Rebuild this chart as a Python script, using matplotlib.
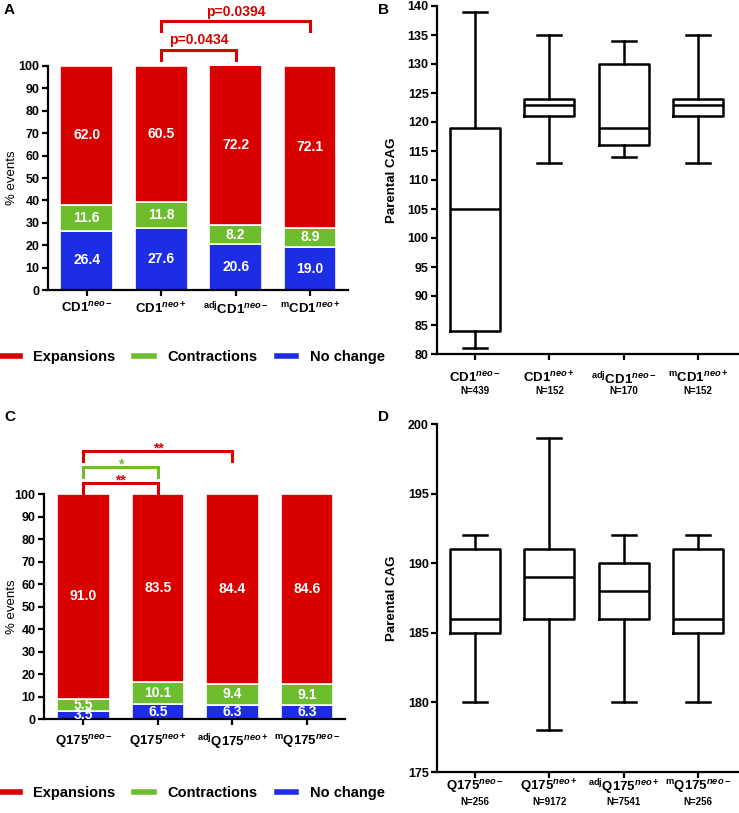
import matplotlib
matplotlib.use("Agg")
import matplotlib.pyplot as plt
from matplotlib.lines import Line2D
import numpy as np

plt.rcParams.update({
    "font.family": ["Liberation Sans", "DejaVu Sans"],
    "font.weight": "bold",
    "mathtext.fontset": "custom",
    "mathtext.rm": "Liberation Sans:bold",
    "mathtext.it": "Liberation Sans:italic:bold",
    "mathtext.bf": "Liberation Sans:bold",
    "axes.linewidth": 1.6,
    "xtick.major.width": 1.6,
    "ytick.major.width": 1.6,
    "xtick.major.size": 4,
    "ytick.major.size": 4,
})

# ---------------- data ----------------
labels_A = ["CD1$^{neo-}$", "CD1$^{neo+}$", "$^{\\mathrm{adj}}$CD1$^{neo-}$", "$^{\\mathrm{m}}$CD1$^{neo+}$"]
nochange_A = [26.4, 27.6, 20.6, 19.0]
contr_A = [11.6, 11.8, 8.2, 8.9]
exp_A = [62.0, 60.5, 72.2, 72.1]

labels_C = ["Q175$^{neo-}$", "Q175$^{neo+}$", "$^{\\mathrm{adj}}$Q175$^{neo+}$", "$^{\\mathrm{m}}$Q175$^{neo-}$"]
nochange_C = [3.5, 6.5, 6.3, 6.3]
contr_C = [5.5, 10.1, 9.4, 9.1]
exp_C = [91.0, 83.5, 84.4, 84.6]

labels_B = ["CD1$^{neo-}$", "CD1$^{neo+}$", "$^{\\mathrm{adj}}$CD1$^{neo-}$", "$^{\\mathrm{m}}$CD1$^{neo+}$"]
n_B = ["N=439", "N=152", "N=170", "N=152"]
whislo_B = [81, 113, 114, 113]
q1_B = [84, 121, 116, 121]
med_B = [105, 123, 119, 123]
q3_B = [119, 124, 130, 124]
whishi_B = [139, 135, 134, 135]

labels_D = ["Q175$^{neo-}$", "Q175$^{neo+}$", "$^{\\mathrm{adj}}$Q175$^{neo+}$", "$^{\\mathrm{m}}$Q175$^{neo-}$"]
n_D = ["N=256", "N=9172", "N=7541", "N=256"]
whislo_D = [180, 178, 180, 180]
q1_D = [185, 186, 186, 185]
med_D = [186, 189, 188, 186]
q3_D = [191, 191, 190, 191]
whishi_D = [192, 199, 192, 192]

series_names = ["Expansions", "Contractions", "No change"]

# significance brackets: (x1, x2, level, text, colour)
sig_A = [(1, 2, 107.1, "p=0.0434", "red"), (1, 3, 120.0, "p=0.0394", "red")]
sig_C = [(0, 1, 104.9, "**", "red"), (0, 1, 112.0, "*", "green"), (0, 2, 119.0, "**", "red")]

RED = "#D90000"
GREEN = "#6DBD2F"
BLUE = "#1D2DE6"
cmap = {"red": RED, "green": GREEN}

W, H = 739, 813
fig = plt.figure(figsize=(W / 100, H / 100), dpi=100)


def ax_px(left, top, right, bottom):
    return fig.add_axes([left / W, 1 - bottom / H, (right - left) / W, (bottom - top) / H])


def stacked(ax, labels, nc, ct, ex, sig, xlim, pad):
    x = np.arange(len(labels))
    nc = np.array(nc); ct = np.array(ct); ex = np.array(ex)
    kw = dict(width=0.71, edgecolor="white", linewidth=1.2)
    ax.bar(x, nc, color=BLUE, **kw)
    ax.bar(x, ct, bottom=nc, color=GREEN, **kw)
    ax.bar(x, ex, bottom=nc + ct, color=RED, **kw)
    for xi, a, b, c in zip(x, nc, ct, ex):
        for val, base in ((a, 0), (b, a), (c, a + b)):
            ax.text(xi, base + val / 2, f"{val:.1f}", color="white", ha="center",
                    va="center", fontsize=10, fontweight="bold")
    ax.set_xlim(*xlim)
    ax.set_ylim(0, 100)
    ax.set_yticks(range(0, 101, 10))
    ax.set_xticks(x)
    ax.set_xticklabels(labels, fontsize=9.5)
    ax.tick_params(axis="x", pad=pad)
    ax.tick_params(axis="y", labelsize=9, pad=2)
    for s in ("top", "right"):
        ax.spines[s].set_visible(False)
    ax.set_ylabel("% events", fontsize=9.5, fontweight="normal")
    for x1, x2, lvl, txt, col in sig:
        c = cmap[col]
        ax.plot([x1, x1, x2, x2], [lvl - 4.3, lvl, lvl, lvl - 4.3], color=c, lw=2.2,
                clip_on=False, solid_joinstyle="miter")
        if txt.startswith("p"):
            ax.text((x1 + x2) / 2, lvl + 1.2, txt, color=c, ha="center", va="bottom",
                    fontsize=10, fontweight="bold", clip_on=False)
        else:
            ax.text((x1 + x2) / 2, lvl - 1.8, txt, color=c, ha="center", va="bottom",
                    fontsize=10, fontweight="bold", clip_on=False)


def boxes(ax, labels, ns, lo, q1, md, q3, hi, ylim, yticks, xlim, pad, npos):
    stats = [dict(whislo=a, q1=b, med=c, q3=d, whishi=e, fliers=[])
             for a, b, c, d, e in zip(lo, q1, md, q3, hi)]
    lp = dict(color="black", linewidth=1.8)
    ax.bxp(stats, positions=range(len(stats)), widths=0.67, capwidths=0.32,
           showfliers=False, boxprops=lp, whiskerprops=lp, capprops=lp,
           medianprops=lp)
    ax.set_xlim(*xlim)
    ax.set_ylim(*ylim)
    ax.set_yticks(yticks)
    ax.set_xticks(range(len(labels)))
    ax.set_xticklabels(labels, fontsize=9.5)
    ax.tick_params(axis="x", pad=pad)
    ax.tick_params(axis="y", labelsize=9, pad=2)
    for s in ("top", "right"):
        ax.spines[s].set_visible(False)
    for i, n in enumerate(ns):
        ax.text(i, npos, n, transform=ax.get_xaxis_transform(), ha="center",
                va="center", fontsize=7, fontweight="bold")
    ax.set_ylabel("Parental CAG", fontsize=9.5, fontweight="bold")


# Panel A
axA = ax_px(48, 66, 348, 290)
stacked(axA, labels_A, nochange_A, contr_A, exp_A, sig_A, (-0.52, 3.51), 4)
axA.yaxis.set_label_coords(-0.10, 0.5)

# Panel C
axC = ax_px(44, 494, 345, 719)
stacked(axC, labels_C, nochange_C, contr_C, exp_C, sig_C, (-0.53, 3.51), 6)
axC.yaxis.set_label_coords(-0.086, 0.5)

# Panel B
axB = ax_px(437, 6, 739, 354)
boxes(axB, labels_B, n_B, whislo_B, q1_B, med_B, q3_B, whishi_B, (80, 140),
      range(80, 141, 5), (-0.51, 3.55), 8, -0.107)
axB.yaxis.set_label_coords(-0.129, 0.5)

# Panel D
axD = ax_px(437, 424, 739, 772)
boxes(axD, labels_D, n_D, whislo_D, q1_D, med_D, q3_D, whishi_D, (175, 200),
      range(175, 201, 5), (-0.51, 3.55), 0, -0.085)
axD.yaxis.set_label_coords(-0.129, 0.5)

# Legends
handles = [Line2D([], [], color=c, lw=4) for c in (RED, GREEN, BLUE)]
for yc in (357, 793):
    fig.legend(handles, series_names, loc="center left",
               bbox_to_anchor=(0.0, 1 - yc / H), ncol=3, frameon=False,
               handlelength=1.37, handletextpad=0.9, columnspacing=1.3,
               borderpad=0, borderaxespad=0, prop=dict(size=10.5, weight="bold"))

# Panel letters
for lab, xp, yp in (("A", 4, 10), ("B", 378, 10), ("C", 4, 417), ("D", 378, 417)):
    fig.text(xp / W, 1 - yp / H, lab, fontsize=11, fontweight="bold", va="center", ha="left")

fig.savefig("out.png", dpi=100)
